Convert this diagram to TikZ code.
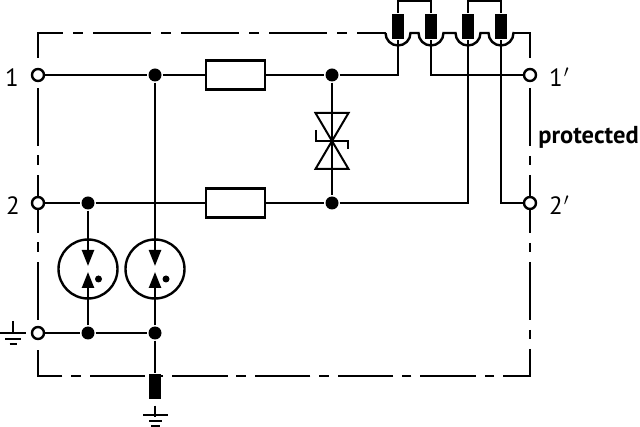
\documentclass[tikz,border=0pt]{standalone}
\usepackage{fontspec}
\setmainfont{PT Sans}
\usetikzlibrary{arrows.meta}

\begin{document}
\begin{tikzpicture}[
            x = 1pt,
            y = -1pt, % same numbers as the image
            > = {Triangle[length=16pt,width=12pt]}, % arrow head style
            line width = 2.4pt, % line style
            font = \fontsize{25}{25}\selectfont
        ]

        \tikzstyle{terminal}=[
            draw = black,
            circle,
            fill = white,
            inner sep = 0pt,
            minimum size = 12pt
        ]
        \tikzstyle{junction}=[
            circle,
            fill = black,
            inner sep = 0pt,
            minimum size = 13pt
        ]
        \tikzstyle{resistor}=[
            draw = black,
            fill = white,
            inner sep = 0pt,
            minimum width = 59pt,
            minimum height = 29pt
        ]
        \tikzstyle{tube}=[
            draw = black,
            circle,
            inner sep = 0pt,
            minimum size = 59pt
        ]
        \tikzstyle{surge}=[
            fill = black,
            inner sep = 0pt,
            minimum width = 12pt,
            minimum height = 25pt
        ]
        \tikzstyle{glow}=[
            circle,
            fill = black,
            inner sep = 0pt,
            minimum size = 7pt
        ]
        \tikzstyle{border1}=[dash pattern = on 58pt off 10pt on 10pt off 10pt, dash phase = 8pt]
        \tikzstyle{border2}=[dash pattern = on 58pt off 10pt on 9.5pt off 9.5pt]
        \tikzstyle{border3}=[dash pattern = on 55.5pt off 9pt on 9.5pt off 8.7pt, dash phase = 2.5pt]

        \useasboundingbox (0,0) rectangle (640,427);

        % corners of the housing
        \coordinate (nw) at (38,33);
        \coordinate (ne) at (530,33);
        \coordinate (se) at (530,376);
        \coordinate (sw) at (38,376);
        \coordinate (top) at (0,1);

        % housing
        \draw[border1] (38,58) -- (nw) -- (385.5,33);
        \draw (514,33) -- (ne) -- (530,58);
        \draw[border2] (530,88) -- (530,350);
        \draw[border3] (530,350) -- (se) -- (sw) -- (38,350);
        \draw[border2] (38,320) -- (38,88);

        % bubbles
        \draw (385.5,33) arc[start angle=180, end angle=0, radius=12.5]
            -- (418.5,33) arc[start angle=180, end angle=0, radius=12.5]
            -- (455.5,33) arc[start angle=180, end angle=0, radius=12.5]
            -- (488.5,33) arc[start angle=180, end angle=0, radius=12.5]
            -- (514,33);

        % surge arresters
        \node[surge] (sa) at (398,26.5) {};
        \node[surge] (sb) at (431,26.5) {};
        \node[surge] (sc) at (468,26.5) {};
        \node[surge] (sd) at (501,26.5) {};
        \node[surge] (se1) at (155,387) {};

        % nodes
        \node[terminal] (t1) at (38,75) {};
        \node[terminal] (t2) at (38,203) {};
        \node[terminal] (t3) at (38,333) {};
        \node[terminal] (t1p) at (530,75) {};
        \node[terminal] (t2p) at (530,203) {};

        \node[junction] (j1) at (155,75) {};
        \node[junction] (j2) at (332,75) {};
        \node[junction] (j3) at (88,203) {};
        \node[junction] (j4) at (332,203) {};
        \node[junction] (j5) at (88,333) {};
        \node[junction] (j6) at (155,333) {};

        \node[resistor] (r1) at (235.5,75) {};
        \node[resistor] (r2) at (235.5,203) {};

        \node[tube] (ga) at (88,269) {};
        \node[tube] (gb) at (155,269) {};
        \node[glow] (da) at (98.5,279) {};
        \node[glow] (db) at (166,279) {};

        % labels
        \node (l1) at (12,77.5) {1};
        \node (l2) at (13,205.5) {2};
        \node[anchor=west, inner sep=0pt] (l1p) at (548,77.5) {1\kern1pt$'$};
        \node[anchor=west, inner sep=0pt] (l2p) at (548,205.5) {2\kern1pt$'$};
        \node[font=\fontsize{24.5}{25}\selectfont\bfseries] (prot) at (588.5,137) {protected};

        % wires
        \draw (t1) -- (j1) -- (r1) -- (j2) -- (sa |- j2) -- (sa.south);
        \draw (t2) -- (j3) -- (r2) -- (j4) -- (sc |- j4) -- (sc.south);
        \draw (t3) -- (j5) -- (j6) -- (se1);
        \draw (sb.south) -- (sb |- t1p) -- (t1p);
        \draw (sd.south) -- (sd |- t2p) -- (t2p);
        \draw (sa.north) -- (sa |- top) -- (sb |- top) -- (sb.north);
        \draw (sc.north) -- (sc |- top) -- (sd |- top) -- (sd.north);

        % arrows in the tubes
        \coordinate (ad) at (88,266);
        \coordinate (au) at (88,272);
        \coordinate (bd) at (155,266);
        \coordinate (bu) at (155,272);
        \draw[->] (j3) -- (ad);
        \draw[->] (j5) -- (au);
        \draw[->] (j1) -- (bd);
        \draw[->] (j6) -- (bu);

        % suppressor diode
        \coordinate (tv) at (332,141);
        \draw (j2) -- (j4);
        \draw[line width=2pt, line join=miter] (tv) -- (315.5,113) -- (348.5,113) -- cycle;
        \draw[line width=2pt, line join=miter] (tv) -- (315.5,169) -- (348.5,169) -- cycle;
        \draw[line width=2pt] (316,130) -- (316,141) -- (347.5,141) -- (347.5,149);

        % earth symbols
        \draw (13,321) -- (13,333);
        \draw (0,333) -- (26,333);
        \draw (5,339) -- (21,339);
        \draw (9.5,344) -- (16.5,344);
        \draw (se1.south) ++(0,5) -- ++(0,11);
        \draw (143,415) -- (168,415);
        \draw (149,421) -- (162,421);
        \draw (151,426) -- (160,426);
    \end{tikzpicture}
\end{document}
